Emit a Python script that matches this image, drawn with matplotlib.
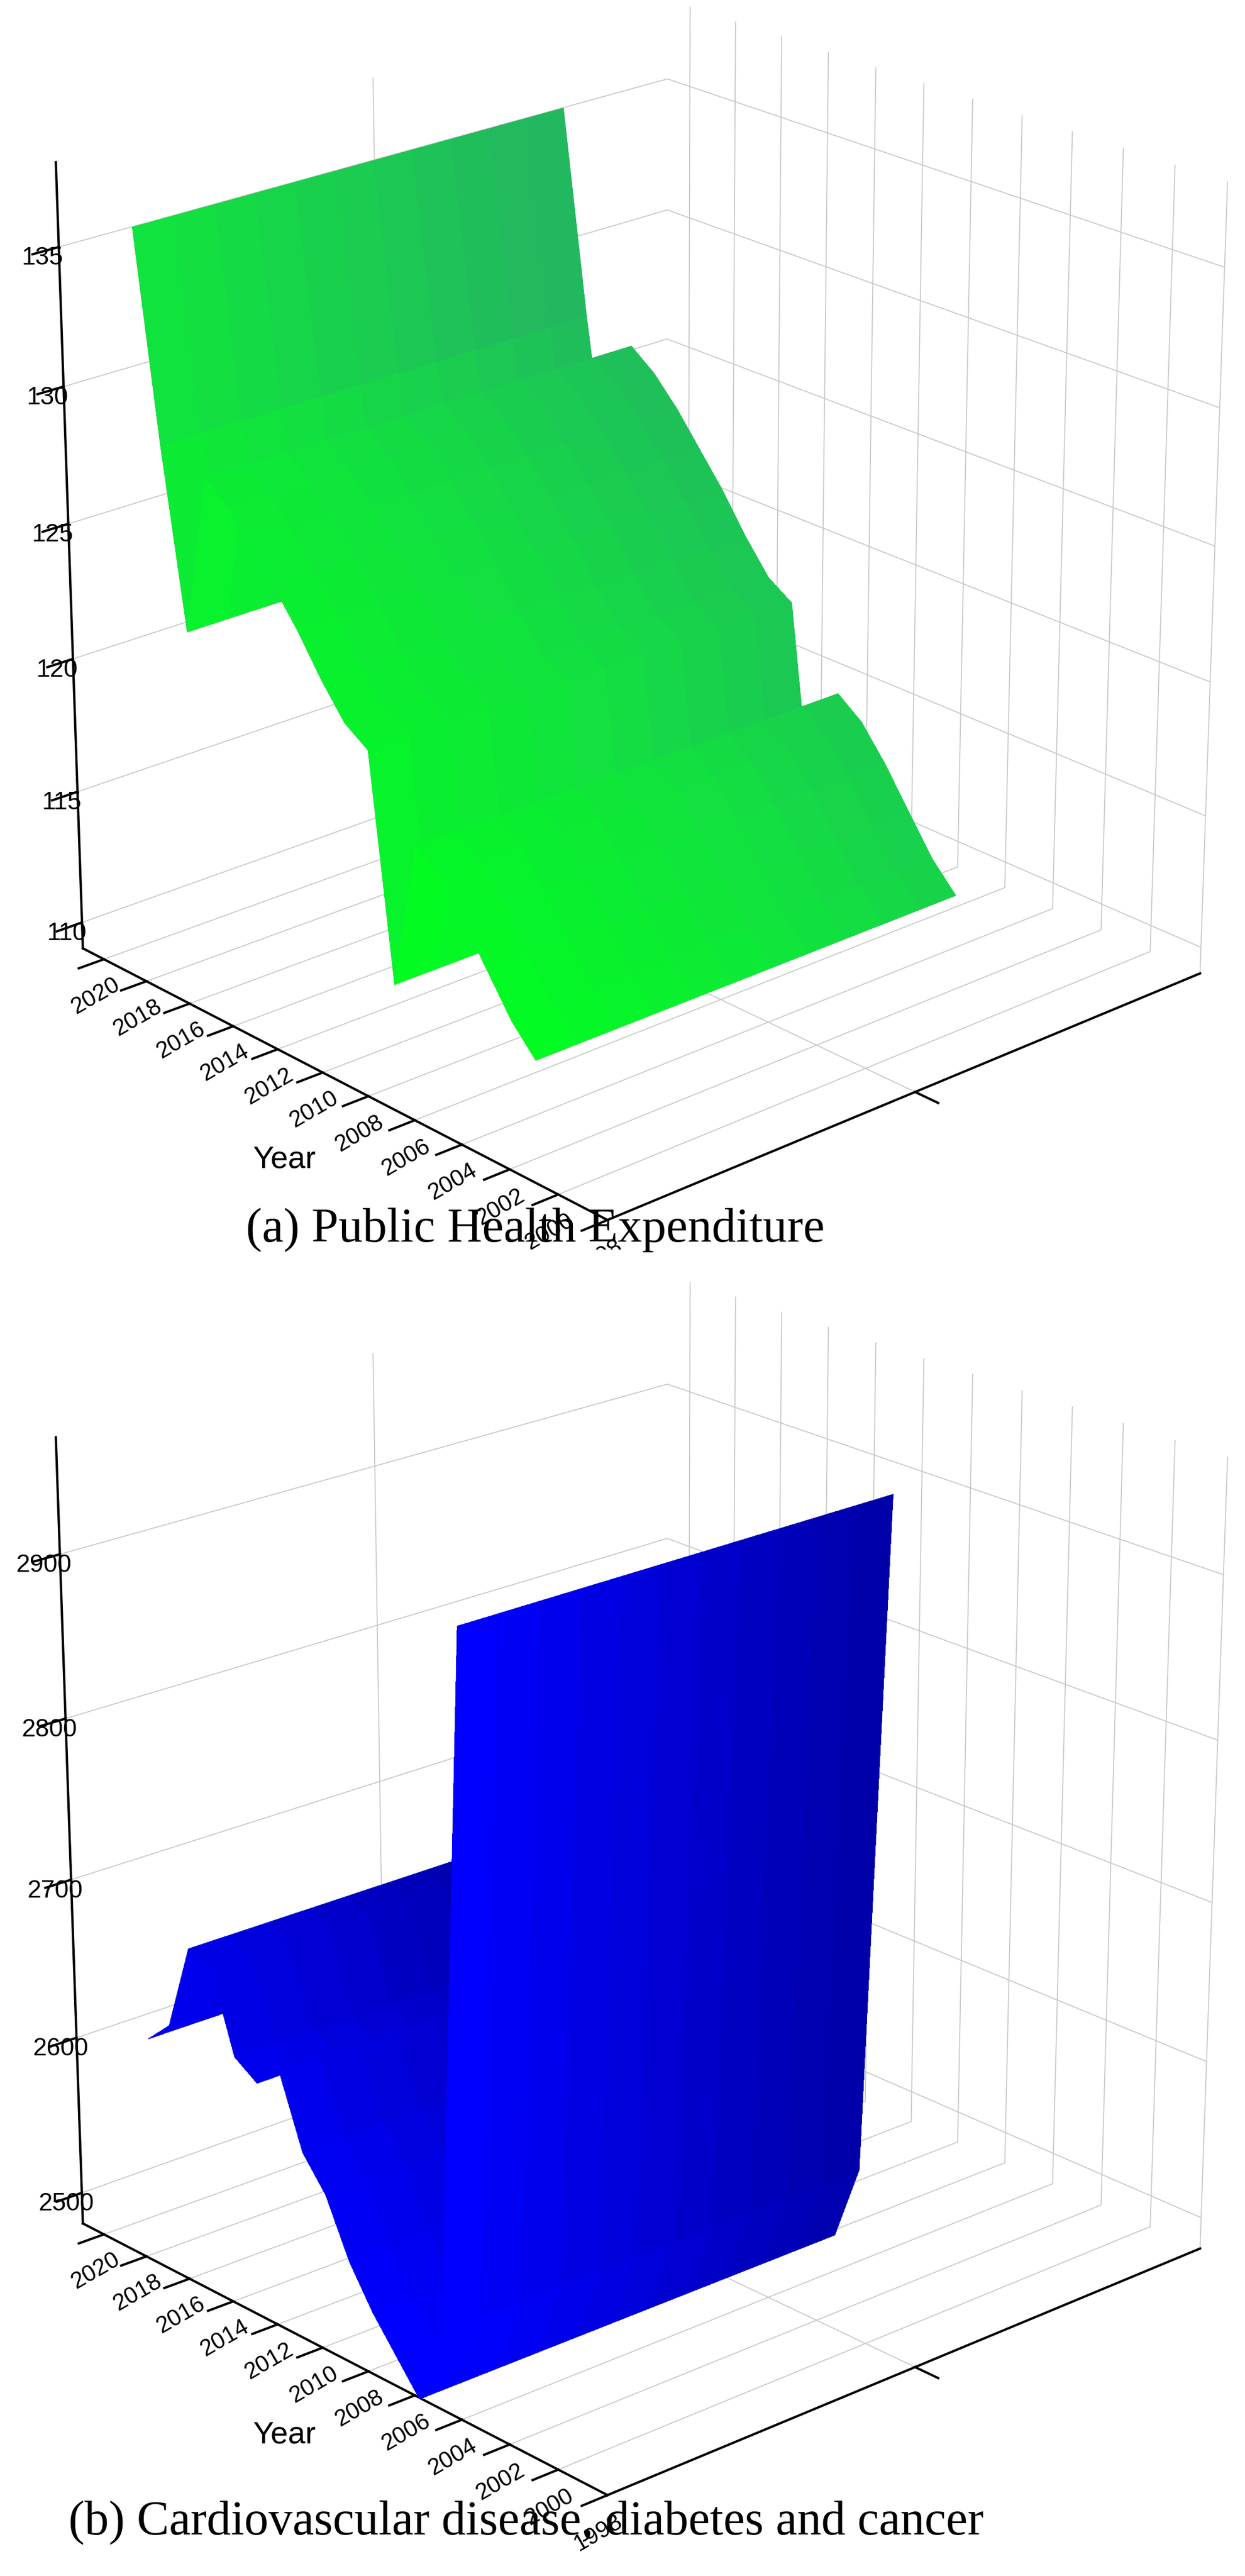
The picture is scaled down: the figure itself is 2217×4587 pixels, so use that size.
import numpy as np
import matplotlib
matplotlib.use('Agg')
import matplotlib.pyplot as plt
from matplotlib.colors import LinearSegmentedColormap

# (a) public health expenditure
years_a = [2020, 2019, 2018, 2017, 2016, 2015, 2014, 2013, 2012, 2011, 2010,
           2009, 2008, 2007, 2006, 2005, 2004, 2003]
values_a = [135.5, 128.0, 121.5, 127.5, 126.8, 125.8, 124.6, 123.4, 122.0, 120.8, 120.2,
            112.0, 117.5, 116.8, 115.6, 114.2, 112.8, 111.8]

# (b) cardiovascular disease, diabetes and cancer
years_b = [2020, 2019, 2018, 2017, 2016, 2015, 2014, 2013, 2012, 2011, 2010,
           2009, 2008, 2007, 2006]
values_b = [2595, 2610, 2665, 2660, 2610, 2600, 2615, 2570, 2550, 2515, 2490,
            2470, 2450, 2500, 2930]

year_ticks = list(range(1998, 2021, 2))
ticks_a = [110, 115, 120, 125, 130, 135]
ticks_b = [2500, 2600, 2700, 2800, 2900]

plt.rcParams['font.family'] = ['Liberation Sans', 'DejaVu Sans']

fig = plt.figure(figsize=(22.17, 45.87), dpi=100)


def draw(rect, years, values, zlim, zticks, cmap, zlabel, zfont, zserif, caption, cap_x, cap_ha, cap_y):
    ax = fig.add_axes(rect, projection='3d')
    yy = np.array(years, dtype=float)
    xx = np.linspace(0.08, 0.78, 12)
    X, Y = np.meshgrid(xx, yy)
    vals = np.array(values, dtype=float)
    Z = np.repeat(vals[:, None], len(xx), axis=1)
    zn = (Z - zlim[0]) / (zlim[1] - zlim[0])
    t = np.clip(0.65 * (X - 0.08) / 0.7 + 0.5 * zn, 0, 1)
    ax.plot_surface(X, Y, Z, facecolors=cmap(t), shade=False, linewidth=0,
                    antialiased=False, rstride=1, cstride=1)
    for y, v in zip(yy, vals):
        ax.plot([xx[0], xx[-1]], [y, y], [v, v], color='#a8a8a8', lw=1.3)
    ax.plot(np.full_like(yy, xx[0]), yy, vals, color='#a8a8a8', lw=1.0)
    ax.plot(np.full_like(yy, xx[-1]), yy, vals, color='#a8a8a8', lw=1.0)
    ax.set_xlim(0, 1)
    ax.set_ylim(1998, 2021)
    ax.set_zlim(*zlim)
    ax.set_yticks(year_ticks)
    ax.set_yticklabels([str(y) for y in year_ticks], fontsize=30, rotation=30)
    ax.set_xticks([0.5])
    ax.set_xticklabels([''])
    ax.set_zticks(zticks)
    ax.set_zticklabels([str(t) for t in zticks], fontsize=32)
    ax.set_ylabel('Year', fontsize=40, labelpad=45)
    fam = ['Liberation Serif'] if zserif else ['Liberation Sans']
    ax.set_zlabel(zlabel, fontsize=zfont, labelpad=45, fontstyle='italic', family=fam)
    for a in (ax.xaxis, ax.yaxis, ax.zaxis):
        a.set_pane_color((1, 1, 1, 1))
        a._axinfo['grid']['color'] = '#c8c8c8'
        a._axinfo['grid']['linewidth'] = 1.3
        a._axinfo['tick']['outward_factor'] = 0.0
        a._axinfo['tick']['inward_factor'] = 0.5
        a._axinfo['tick']['linewidth'] = {True: 3, False: 2}
        a.line.set_linewidth(3)
    ax.zaxis.set_ticks_position('upper')
    ax.zaxis.set_label_position('upper')
    ax.view_init(elev=22, azim=-132)
    ax.set_box_aspect((1, 1, 1.05), zoom=1.12)
    fig.text(cap_x, cap_y, caption, fontsize=62, family='Liberation Serif', ha=cap_ha)
    return ax


greens = LinearSegmentedColormap.from_list('g', ['#00ff1e', '#12e040', '#22b860'])
blues = LinearSegmentedColormap.from_list('b', ['#0000ff', '#0000b8', '#00007a'])

draw([0.0, 0.53, 1.0, 0.48], years_a, values_a, (109, 138), ticks_a, greens,
     'Current internatnal US $', 32, True,
     '(a) Public Health Expenditure', 0.43, 'center', 0.518)
draw([0.0, 0.035, 1.0, 0.48], years_b, values_b, (2480, 2970), ticks_b, blues,
     'Population', 48, False,
     '(b) Cardiovascular disease, diabetes and cancer', 0.055, 'left', 0.016)

fig.savefig('out.png', dpi=100, facecolor='white')
